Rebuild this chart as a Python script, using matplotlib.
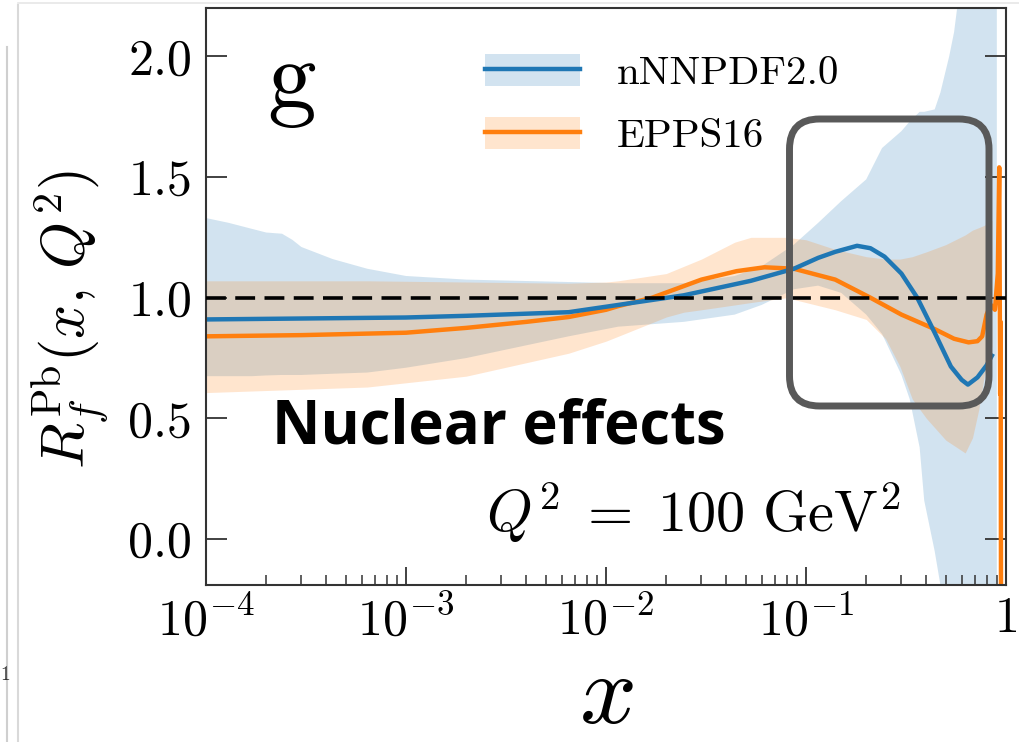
import numpy as np
import matplotlib
matplotlib.use("Agg")
import matplotlib.pyplot as plt
from matplotlib.patches import FancyBboxPatch
from matplotlib.lines import Line2D
from matplotlib.ticker import LogLocator, NullFormatter, FixedLocator, FixedFormatter

plt.rcParams.update({
    "font.family": "serif",
    "font.serif": ["cmr10"],
    "mathtext.fontset": "cm",
    "axes.unicode_minus": False,
    "axes.formatter.use_mathtext": True,
})

BLUE = "#1f77b4"
ORANGE = "#ff7f0e"

# nNNPDF2.0 central value
nn_x = [1e-4, 1e-3, 2e-3, 6.5e-3, 1.15e-2, 2.45e-2, 5.3e-2, 8.7e-2, 0.115, 0.14,
        0.18, 0.21, 0.247, 0.3, 0.36, 0.44, 0.53, 0.6, 0.645, 0.72, 0.8, 0.85]
nn_mid = [0.91, 0.918, 0.925, 0.94, 0.97, 1.01, 1.07, 1.12, 1.165, 1.19,
          1.215, 1.205, 1.17, 1.10, 1.0, 0.855, 0.715, 0.66, 0.64, 0.67, 0.72, 0.76]

# nNNPDF2.0 uncertainty band
nn_bx = [1e-4, 1.3e-4, 1.7e-4, 2.0e-4, 2.4e-4, 2.7e-4, 3.0e-4, 4.3e-4, 6.4e-4, 1e-3,
         2e-3, 6.5e-3, 1.15e-2, 2.45e-2, 4.4e-2, 6e-2, 8.7e-2, 0.115, 0.15, 0.2,
         0.24, 0.3, 0.33, 0.37, 0.39, 0.44, 0.47, 0.52, 0.55, 0.58, 0.6, 0.9]
nn_hi = [1.33, 1.31, 1.285, 1.27, 1.265, 1.24, 1.21, 1.16, 1.12, 1.09,
         1.075, 1.065, 1.06, 1.06, 1.09, 1.13, 1.22, 1.31, 1.40, 1.49,
         1.62, 1.69, 1.73, 1.77, 1.77, 1.78, 1.85, 2.0, 2.1, 2.25, 3.0, 3.0]
nn_lo = [0.675, 0.675, 0.675, 0.678, 0.68, 0.68, 0.68, 0.685, 0.69, 0.71,
         0.75, 0.84, 0.88, 0.90, 0.93, 0.97, 1.035, 1.05, 1.02, 0.93,
         0.85, 0.68, 0.58, 0.38, 0.16, -0.05, -0.19, -0.4, -0.6, -0.8, -1.0, -1.0]

# EPPS16 central value
ep_x = [1e-4, 3e-4, 1e-3, 2e-3, 4e-3, 6.5e-3, 1e-2, 1.15e-2, 1.7e-2, 3e-2,
        4.5e-2, 6.2e-2, 8.7e-2, 0.14, 0.21, 0.3, 0.44, 0.55, 0.65, 0.72,
        0.76, 0.8, 0.84, 0.88, 0.91, 0.925, 0.935, 0.94, 0.945]
ep_mid = [0.84, 0.845, 0.855, 0.875, 0.9, 0.92, 0.95, 0.965, 1.0, 1.075,
          1.11, 1.126, 1.12, 1.075, 1.0, 0.93, 0.87, 0.83, 0.815, 0.82,
          0.84, 0.93, 0.97, 0.95, 1.1, 1.54, 0.6, 0.9, -0.5]

# EPPS16 uncertainty band
ep_bx = [1e-4, 6.4e-4, 2e-3, 6.5e-3, 1e-2, 1.15e-2, 2e-2, 2.45e-2, 3e-2, 4.4e-2,
         5.3e-2, 8e-2, 0.1, 0.14, 0.2, 0.25, 0.295, 0.34, 0.4, 0.5,
         0.625, 0.68, 0.73, 0.78, 0.85]
ep_hi = [1.07, 1.07, 1.065, 1.06, 1.065, 1.07, 1.10, 1.13, 1.16, 1.23,
         1.25, 1.25, 1.24, 1.2, 1.17, 1.16, 1.16, 1.17, 1.19, 1.22,
         1.26, 1.28, 1.29, 1.30, 1.32]
ep_lo = [0.607, 0.63, 0.675, 0.77, 0.82, 0.84, 0.92, 0.94, 0.95, 0.97,
         0.98, 1.0, 0.98, 0.95, 0.91, 0.83, 0.715, 0.58, 0.5, 0.41,
         0.357, 0.42, 0.535, 0.68, 0.8]

x_ticks = [1e-4, 1e-3, 1e-2, 1e-1, 1.0]
x_ticklabels = [r"$10^{-4}$", r"$10^{-3}$", r"$10^{-2}$", r"$10^{-1}$", r"$1$"]
y_ticks = [0.0, 0.5, 1.0, 1.5, 2.0]
labels = ["nNNPDF2.0", "EPPS16"]

fig = plt.figure(figsize=(10.19, 7.42), dpi=100)
ax = fig.add_axes([206 / 1019, 157 / 742, 800 / 1019, 577 / 742])

nn_band = ax.fill_between(nn_bx, nn_lo, nn_hi, color=BLUE, alpha=0.2, lw=0)
ep_band = ax.fill_between(ep_bx, ep_lo, ep_hi, color=ORANGE, alpha=0.2, lw=0)
ep_line, = ax.plot(ep_x, ep_mid, color=ORANGE, lw=3.2)
nn_line, = ax.plot(nn_x, nn_mid, color=BLUE, lw=3.2)
ax.axhline(1.0, color="black", lw=2.6, ls=(0, (5.5, 2.6)), zorder=4)

ax.set_xscale("log")
ax.set_xlim(1e-4, 1.0)
ax.set_ylim(-0.19, 2.2)

ax.xaxis.set_major_locator(FixedLocator(x_ticks))
ax.xaxis.set_major_formatter(FixedFormatter(x_ticklabels))
ax.xaxis.set_minor_locator(LogLocator(base=10, subs=np.arange(2, 10)))
ax.xaxis.set_minor_formatter(NullFormatter())
ax.set_yticks(y_ticks)
ax.set_yticklabels(["%.1f" % v for v in y_ticks])

ax.tick_params(axis="both", which="major", direction="in", labelsize=36, color="#333333")
ax.tick_params(axis="x", which="major", length=13, width=1.3, pad=8, top=False)
ax.tick_params(axis="x", which="minor", direction="in", length=7, width=1.1, top=False, color="#333333")
ax.tick_params(axis="y", which="major", length=15, width=1.3, pad=10, right=True)
for s in ax.spines.values():
    s.set_color("#333333")
    s.set_linewidth(1.5)

ax.set_ylabel(r"$R_f^{\mathrm{Pb}}(x,\,Q^2)$", fontsize=43)
ax.yaxis.set_label_coords(-0.12, 0.46)
ax.set_xlabel(r"$x$", fontsize=72, labelpad=6)

ax.text(0.076, 0.827, "g", transform=ax.transAxes, fontsize=70, va="baseline")
ax.text(0.8675, 0.092, r"$Q^2\;=\;100\ \mathrm{GeV}^2$", transform=ax.transAxes,
        fontsize=42, ha="right", va="baseline")

ax.legend([(nn_band, nn_line), (ep_band, ep_line)], labels, loc="upper left",
          bbox_to_anchor=(0.349, 0.92), frameon=False, fontsize=29.5,
          handlelength=2.32, handleheight=0.8, labelspacing=0.62,
          handletextpad=0.9, borderpad=0, borderaxespad=0)

# highlight box and overlay label
r = 0.3
box = FancyBboxPatch((7.895 + r, 3.36 + r), 9.89 - 7.895 - 2 * r, 6.23 - 3.36 - 2 * r,
                     boxstyle="round,pad=%g" % r, transform=fig.dpi_scale_trans,
                     fill=False, ec="#595959", lw=5, zorder=20)
fig.add_artist(box)
ax.text(0.082, 0.246, "Nuclear effects", transform=ax.transAxes, fontfamily="Open Sans",
        fontweight="bold", fontsize=43, va="baseline", zorder=21)

# screenshot edges on the left
fig.add_artist(Line2D([18 / 1019, 18 / 1019], [0, 737 / 742], transform=fig.transFigure,
                      color="#d9d9d9", lw=1.5))
fig.add_artist(Line2D([7 / 1019, 7 / 1019], [0, 695 / 742], transform=fig.transFigure,
                      color="#cfcfcf", lw=1.5))
fig.add_artist(Line2D([18 / 1019, 1], [739 / 742, 739 / 742], transform=fig.transFigure,
                      color="#e6e6e6", lw=1.2))
fig.text(0.0, 62 / 742, "1", fontsize=14, color="#333333")

fig.savefig("out.png", dpi=100)
